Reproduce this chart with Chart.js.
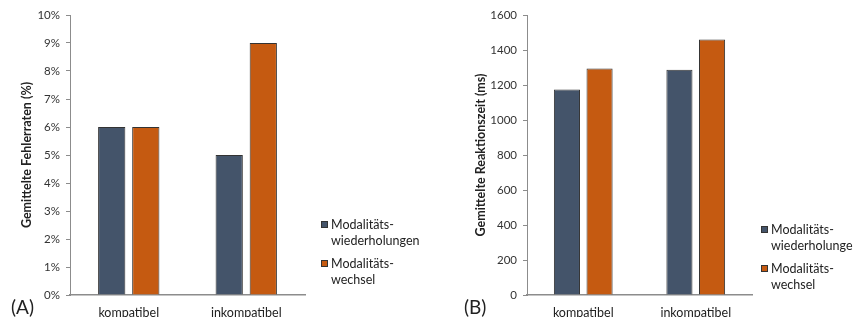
<!DOCTYPE html>
<html lang="de">
<head>
<meta charset="UTF-8">
<title>Fehlerraten und Reaktionszeiten</title>
<script src="https://cdn.jsdelivr.net/npm/chart.js"></script>
<style>
   body { margin: 0; background: #fff; font-family: Lato, sans-serif; color: #222; }
   .panel { position: absolute; top: 0; height: 317px; }
   .tag { position: absolute; font-size: 19px; top: 295px; }
   .legend { position: absolute; font-size: 12.5px; line-height: 16px; }
   .item { position: relative; padding-left: 10px; margin-bottom: 7px; }
   .sw { position: absolute; left: 0; top: 4px; width: 7px; height: 7px; border: 1px solid #333; box-sizing: border-box; }
</style>
</head>
<body>
   <div class="panel" style="left:0;width:430px"><canvas id="chartA" width="430" height="317"></canvas></div>
   <div class="panel" style="left:430px;width:423px"><canvas id="chartB" width="423" height="317"></canvas></div>
   <div class="tag" style="left:11px">(A)</div>
   <div class="tag" style="left:464px">(B)</div>
   <div class="legend" id="legA" style="left:321px;top:217px"></div>
   <div class="legend" id="legB" style="left:761px;top:222px"></div>
<script>
   // Daten
   const categories = ['kompatibel', 'inkompatibel'];
   const seriesNames = [['Modalitäts-', 'wiederholungen'], ['Modalitäts-', 'wechsel']];
   const colors = ['#44546A', '#C55A11'];

   const fehlerWdh = [6, 5];
   const fehlerWechsel = [6, 9];
   const rtWdh = [1175, 1287];
   const rtWechsel = [1295, 1460];

   const ticksA = ['0%', '1%', '2%', '3%', '4%', '5%', '6%', '7%', '8%', '9%', '10%'];
   const ticksB = ['0', '200', '400', '600', '800', '1000', '1200', '1400', '1600'];

   const axisGrey = '#8c8c8c';

   function makeChart(id, series, yMax, step, tickLabels, title, yWidth, titlePad, rightPad) {
      return new Chart(document.getElementById(id), {
         type: 'bar',
         data: {
            labels: categories,
            datasets: series.map(function (d, i) {
               return {
                  label: seriesNames[i].join(''),
                  data: d,
                  backgroundColor: colors[i],
                  borderColor: '#333',
                  borderWidth: 1,
                  categoryPercentage: 0.58,
                  barPercentage: 0.8
               };
            })
         },
         options: {
            responsive: false,
            animation: false,
            layout: { padding: { left: 0, right: rightPad, top: 15, bottom: 0 } },
            plugins: { legend: { display: false }, tooltip: { enabled: false } },
            scales: {
               x: {
                  grid: { display: false },
                  border: { display: true, color: axisGrey, width: 1.5 },
                  ticks: { color: '#222', font: { family: 'Lato', size: 12.5 }, padding: 2 },
                  afterFit: function (s) { s.height = 22; }
               },
               y: {
                  min: 0, max: yMax,
                  grid: { drawOnChartArea: false, tickLength: 4, color: axisGrey },
                  border: { color: axisGrey },
                  ticks: {
                     stepSize: step, padding: 6, color: '#333',
                     font: { family: 'Lato', size: 11.5 },
                     callback: function (v, i) { return tickLabels[i]; }
                  },
                  title: {
                     display: true, text: title, color: '#222',
                     font: { family: 'Lato', size: 12.5, weight: 'bold' },
                     padding: { top: titlePad, bottom: 0 }
                  },
                  afterFit: function (s) { s.width = yWidth; }
               }
            }
         }
      });
   }

   makeChart('chartA', [fehlerWdh, fehlerWechsel], 10, 1, ticksA, 'Gemittelte Fehlerraten (%)', 70, 19, 125);
   makeChart('chartB', [rtWdh, rtWechsel], 1600, 200, ticksB, 'Gemittelte Reaktionszeit (ms)', 97, 43, 101);

   function legende(id) {
      const el = document.getElementById(id);
      seriesNames.forEach(function (n, i) {
         el.innerHTML += '<div class="item"><span class="sw" style="background:' + colors[i] + '"></span>' + n.join('<br>') + '</div>';
      });
   }
   legende('legA');
   legende('legB');
</script>
</body>
</html>
